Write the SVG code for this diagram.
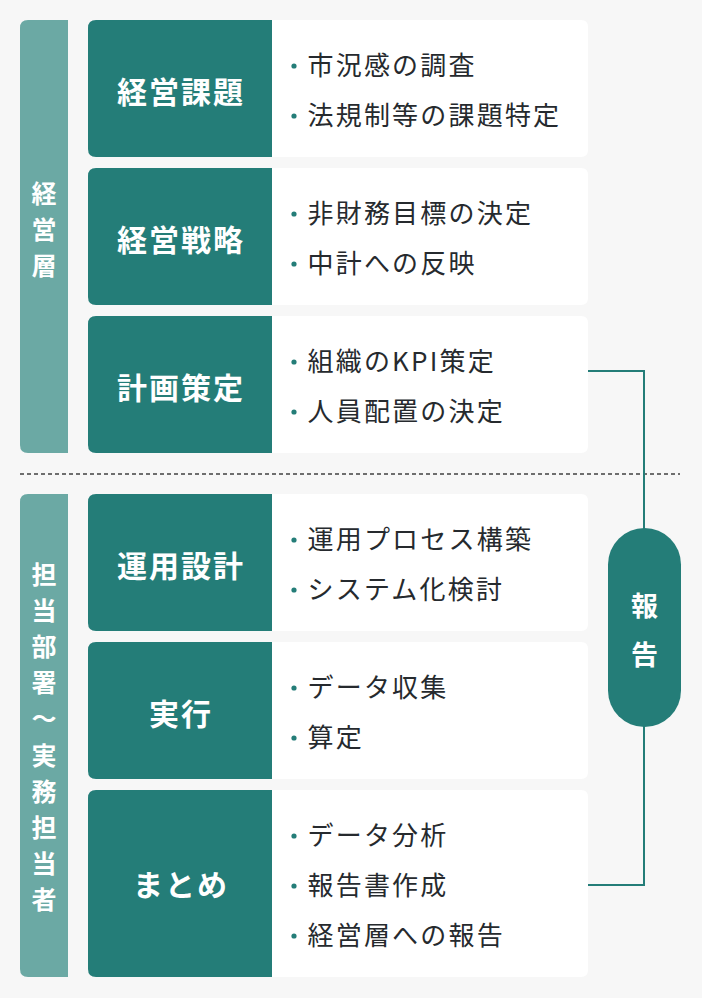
<svg xmlns="http://www.w3.org/2000/svg" width="702" height="998" viewBox="0 0 702 998">
<style>
.band{fill:#6ba9a4}
.head{fill:#247d78}
.body{fill:#ffffff}
.bandtxt{font-family:"Noto Sans CJK JP","Noto Sans",sans-serif;font-size:25px;font-weight:700;fill:#ffffff;text-anchor:middle}
.title{font-family:"Noto Sans CJK JP","Noto Sans",sans-serif;font-size:30px;font-weight:700;fill:#ffffff;text-anchor:middle;letter-spacing:2px}
.item{font-family:"Noto Sans CJK JP","Noto Sans",sans-serif;font-size:26px;font-weight:400;fill:#262a2e;letter-spacing:2.2px}
.dot{fill:#247d78}
.conn{fill:none;stroke:#247d78;stroke-width:2}
.pilltxt{font-family:"Noto Sans CJK JP","Noto Sans",sans-serif;font-size:27px;font-weight:700;fill:#ffffff;text-anchor:middle}
</style>
<rect x="0" y="0" width="702" height="998" fill="#f7f7f7"/>

<g id="band-management">
<path class="band" d="M28,20 H68 V453 H28 Q20,453 20,445 V28 Q20,20 28,20 Z"/>
<text class="bandtxt"><tspan x="44" y="203">経</tspan><tspan x="44" y="239">営</tspan><tspan x="44" y="275">層</tspan></text>
</g>

<g id="band-staff">
<path class="band" d="M28,494 H68 V977 H28 Q20,977 20,969 V502 Q20,494 28,494 Z"/>
<text class="bandtxt"><tspan x="44" y="584">担</tspan><tspan x="44" y="620">当</tspan><tspan x="44" y="656">部</tspan><tspan x="44" y="692">署</tspan><tspan x="44" y="728">〜</tspan><tspan x="44" y="765">実</tspan><tspan x="44" y="801">務</tspan><tspan x="44" y="837">担</tspan><tspan x="44" y="873">当</tspan><tspan x="44" y="909">者</tspan></text>
</g>

<line x1="20" y1="474" x2="680" y2="474" stroke="#6e6e6e" stroke-width="2" stroke-dasharray="4 3"/>

<g id="row-keiei-kadai">
<path class="head" d="M96,20 H272 V157 H96 Q88,157 88,149 V28 Q88,20 96,20 Z"/>
<path class="body" d="M272,20 H581 Q588,20 588,27 V150 Q588,157 581,157 H272 Z"/>
<text class="title" x="181" y="103">経営課題</text>
<circle class="dot" cx="294" cy="66" r="2.6"/>
<text class="item" x="307.5" y="75">市況感の調査</text>
<circle class="dot" cx="294" cy="116" r="2.6"/>
<text class="item" x="307.5" y="125">法規制等の課題特定</text>
</g>

<g id="row-keiei-senryaku">
<path class="head" d="M96,168 H272 V305 H96 Q88,305 88,297 V176 Q88,168 96,168 Z"/>
<path class="body" d="M272,168 H581 Q588,168 588,175 V298 Q588,305 581,305 H272 Z"/>
<text class="title" x="181" y="251">経営戦略</text>
<circle class="dot" cx="294" cy="214" r="2.6"/>
<text class="item" x="307.5" y="223">非財務目標の決定</text>
<circle class="dot" cx="294" cy="264" r="2.6"/>
<text class="item" x="307.5" y="273">中計への反映</text>
</g>

<g id="row-keikaku">
<path class="head" d="M96,316 H272 V453 H96 Q88,453 88,445 V324 Q88,316 96,316 Z"/>
<path class="body" d="M272,316 H581 Q588,316 588,323 V446 Q588,453 581,453 H272 Z"/>
<text class="title" x="181" y="399">計画策定</text>
<circle class="dot" cx="294" cy="362" r="2.6"/>
<text class="item" x="307.5" y="371">組織のKPI策定</text>
<circle class="dot" cx="294" cy="412" r="2.6"/>
<text class="item" x="307.5" y="421">人員配置の決定</text>
</g>

<g id="row-unyou">
<path class="head" d="M96,494 H272 V631 H96 Q88,631 88,623 V502 Q88,494 96,494 Z"/>
<path class="body" d="M272,494 H581 Q588,494 588,501 V624 Q588,631 581,631 H272 Z"/>
<text class="title" x="181" y="577">運用設計</text>
<circle class="dot" cx="294" cy="540" r="2.6"/>
<text class="item" x="307.5" y="549">運用プロセス構築</text>
<circle class="dot" cx="294" cy="590" r="2.6"/>
<text class="item" x="307.5" y="599">システム化検討</text>
</g>

<g id="row-jikkou">
<path class="head" d="M96,642 H272 V779 H96 Q88,779 88,771 V650 Q88,642 96,642 Z"/>
<path class="body" d="M272,642 H581 Q588,642 588,649 V772 Q588,779 581,779 H272 Z"/>
<text class="title" x="181" y="725">実行</text>
<circle class="dot" cx="294" cy="688" r="2.6"/>
<text class="item" x="307.5" y="697">データ収集</text>
<circle class="dot" cx="294" cy="738" r="2.6"/>
<text class="item" x="307.5" y="747">算定</text>
</g>

<g id="row-matome">
<path class="head" d="M96,790 H272 V977 H96 Q88,977 88,969 V798 Q88,790 96,790 Z"/>
<path class="body" d="M272,790 H581 Q588,790 588,797 V970 Q588,977 581,977 H272 Z"/>
<text class="title" x="181" y="896">まとめ</text>
<circle class="dot" cx="294" cy="836" r="2.6"/>
<text class="item" x="307.5" y="845">データ分析</text>
<circle class="dot" cx="294" cy="886" r="2.6"/>
<text class="item" x="307.5" y="895">報告書作成</text>
<circle class="dot" cx="294" cy="936" r="2.6"/>
<text class="item" x="307.5" y="945">経営層への報告</text>
</g>

<g id="connectors">
<polyline class="conn" points="588,371 644,371 644,530"/>
<polyline class="conn" points="644,726 644,885 588,885"/>
</g>

<g id="report">
<rect x="608" y="528" width="73" height="199" rx="36.5" ry="36.5" fill="#247d78"/>
<text class="pilltxt"><tspan x="644.5" y="616">報</tspan><tspan x="644.5" y="665">告</tspan></text>
</g>
</svg>
